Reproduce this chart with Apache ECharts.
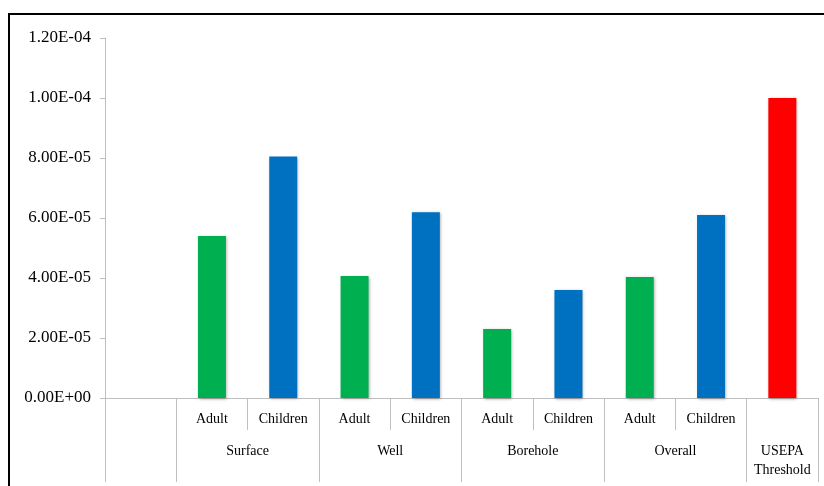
<!DOCTYPE html>
<html>
<head>
<meta charset="utf-8">
<script src="https://cdn.jsdelivr.net/npm/echarts@6/dist/echarts.min.js"></script>
<style>
  body { margin: 0; background: #fff; }
  #frame { position: absolute; left: 8px; top: 13px; width: 900px; height: 600px; border: 2px solid #000; box-sizing: border-box; }
  #mychart { position: absolute; left: 0; top: 0; width: 824px; height: 486px; }
</style>
</head>
<body>
<div id="frame"></div>
<div id="mychart"></div>
<script>
// categories along the axis (first slot is empty, like the original)
const subCategories = ['', 'Adult', 'Children', 'Adult', 'Children', 'Adult', 'Children', 'Adult', 'Children', ''];
// risk values
const riskValues = [null, 5.40e-5, 8.05e-5, 4.07e-5, 6.19e-5, 2.30e-5, 3.60e-5, 4.03e-5, 6.10e-5, 1.00e-4];
const barKinds = ['', 'adult', 'child', 'adult', 'child', 'adult', 'child', 'adult', 'child', 'limit'];
// group labels and how many categories each spans
const groupNames = ['Surface', 'Well', 'Borehole', 'Overall', 'USEPA\nThreshold'];
const groupSpans = [2, 2, 2, 2, 1];
const yTicks = [0, 2e-5, 4e-5, 6e-5, 8e-5, 1e-4, 1.2e-4];

const kindColor = { adult: '#00b050', child: '#0070c0', limit: '#ff0000' };

// second axis in half-category steps, so group names sit between their bars
const halfSlots = new Array(subCategories.length * 2 + 1).fill('');
const separators = [0];
let s = 2; // groups start after the empty first category
groupNames.forEach((g, i) => {
    separators.push(s);
    halfSlots[s + groupSpans[i]] = g;
    s += groupSpans[i] * 2;
});
separators.push(s);

const fmt = v => {
    const [m, e] = Number(v).toExponential(2).toUpperCase().split('E');
    const sign = e[0] === '-' ? '-' : '+';
    const n = e.replace(/[+-]/, '');
    return m + 'E' + sign + (n.length < 2 ? '0' + n : n);
};

const grey = '#bfbfbf';
const serif = 'Liberation Serif';

const myChart = echarts.init(document.getElementById('mychart'));
myChart.setOption({
    animation: false,
    grid: { left: 105, right: 6, top: 38, bottom: 88 },
    xAxis: [
        {
            type: 'category',
            position: 'bottom',
            data: subCategories,
            axisLine: { lineStyle: { color: grey } },
            axisTick: { show: true, interval: 0, length: 32, lineStyle: { color: grey } },
            axisLabel: { interval: 0, margin: 14, color: '#000', fontFamily: serif, fontSize: 14 }
        },
        {
            type: 'category',
            position: 'bottom',
            boundaryGap: false,
            data: halfSlots,
            axisLine: { show: false },
            axisTick: {
                show: true,
                length: 84,
                interval: idx => separators.indexOf(idx) >= 0,
                lineStyle: { color: grey }
            },
            axisLabel: { interval: 0, margin: 44, color: '#000', fontFamily: serif, fontSize: 14, lineHeight: 19 }
        }
    ],
    yAxis: {
        type: 'value',
        min: yTicks[0],
        max: yTicks[yTicks.length - 1],
        interval: yTicks[1] - yTicks[0],
        axisLine: { show: true, lineStyle: { color: grey } },
        axisTick: { show: true, length: 5, lineStyle: { color: grey } },
        splitLine: { show: false },
        axisLabel: { margin: 14, color: '#000', fontFamily: serif, fontSize: 17, formatter: fmt }
    },
    series: [{
        type: 'bar',
        xAxisIndex: 0,
        barWidth: 28,
        data: riskValues.map((v, i) => ({
            value: v,
            itemStyle: { color: kindColor[barKinds[i]] || '#000' }
        })),
        itemStyle: {
            shadowBlur: 3,
            shadowColor: 'rgba(0,0,0,0.35)',
            shadowOffsetX: 1,
            shadowOffsetY: 1
        }
    }]
});
window.addEventListener('resize', () => myChart.resize());
</script>
</body>
</html>
